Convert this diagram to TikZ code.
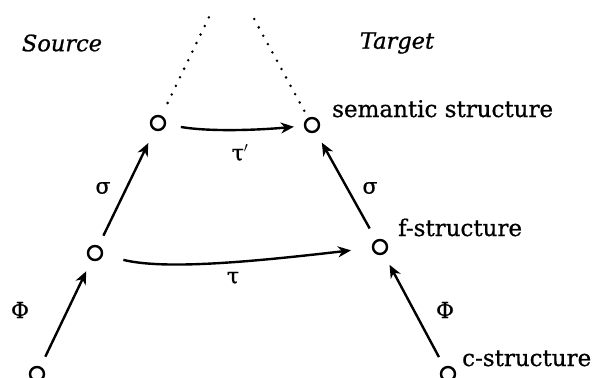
\documentclass[tikz,border=0pt]{standalone}
\usepackage{fontspec}
\setmainfont{DejaVu Serif}[UprightFeatures={FakeBold=0.7},ItalicFeatures={FakeBold=0.9}]
\usetikzlibrary{arrows.meta}
\begin{document}
\begin{tikzpicture}[x=1pt,y=-1pt,
  pt/.style={circle,draw,line width=2.4pt,minimum size=14pt,inner sep=0pt},
  map/.style={line width=2.4pt,-{Stealth[length=13pt,width=11pt,inset=4pt]}},
  dots/.style={line width=2.8pt,line cap=round,dash pattern=on 0pt off 9.5pt},
  lab/.style={font=\fontsize{23}{27}\selectfont,inner sep=0pt},
  glab/.style={font=\fontsize{22}{26}\selectfont,inner sep=0pt},
  head/.style={font=\fontsize{22.5}{27}\selectfont\itshape,inner sep=0pt}]
\useasboundingbox (0,0) rectangle (598,378);
\clip (0,0) rectangle (598,378);
% points
\node[pt] (tl) at (158,123) {};
\node[pt] (tr) at (312,125) {};
\node[pt] (ml) at (95,253) {};
\node[pt] (mr) at (380,247) {};
\node[pt] (bl) at (37,374) {};
\node[pt] (br) at (448,374) {};
\coordinate (apL) at (210,15);
\coordinate (apR) at (252,15);
% dotted
\draw[dots,shorten <=14pt] (tl) -- (apL);
\draw[dots,shorten <=8pt] (tr) -- (apR);
% headings
\node[head] (src) at (62,43) {Source};
\node[head] (tgt) at (397,43) {Target};
% labels
\node[lab,anchor=base west] (sem) at (332,117) {semantic structure};
\node[lab,anchor=base west] (fs) at (398,236) {f-structure};
\node[lab,anchor=base west] (cs) at (462,366) {c-structure};
% arrows
\draw[map,shorten <=11pt,shorten >=12pt] (bl) -- (ml);
\draw[map,shorten <=11pt,shorten >=14pt] (ml) -- (tl);
\draw[map,shorten <=11pt,shorten >=12pt] (br) -- (mr);
\draw[map,shorten <=13pt,shorten >=12pt] (mr) -- (tr);
\draw[map,shorten <=15pt,shorten >=10pt] (tl) .. controls (210,132) and (260,130) .. (tr);
\draw[map,shorten <=21pt,shorten >=21pt] (ml) .. controls (165,270) and (250,262) .. (mr);
% map labels
\node[glab] (sgL) at (103,188) {σ};
\node[glab] (sgR) at (370,188) {σ};
\node[glab] (phL) at (20,310) {Φ};
\node[glab] (phR) at (445,310) {Φ};
\node[glab] (taup) at (240,153) {τ$'$};
\node[glab] (tau) at (233,278) {τ};
\end{tikzpicture}
\end{document}
